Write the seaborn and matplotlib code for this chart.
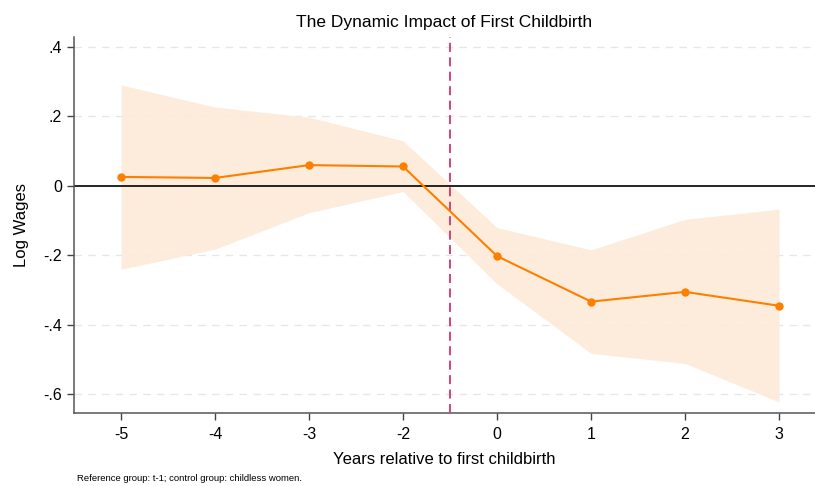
import matplotlib
matplotlib.use("Agg")
import matplotlib.pyplot as plt
import seaborn as sns
import numpy as np
import pandas as pd

# Event-study estimates of log wages around first childbirth
years = ["-5", "-4", "-3", "-2", "0", "1", "2", "3"]
coef = [0.026, 0.023, 0.060, 0.056, -0.202, -0.333, -0.305, -0.345]
ci_upper = [0.291, 0.227, 0.198, 0.130, -0.120, -0.184, -0.096, -0.067]
ci_lower = [-0.240, -0.182, -0.077, -0.016, -0.282, -0.482, -0.511, -0.622]
y_ticks = [0.4, 0.2, 0.0, -0.2, -0.4, -0.6]
y_tick_labels = [".4", ".2", "0", "-.2", "-.4", "-.6"]

sns.set_style("white", {"text.color": "black", "axes.labelcolor": "black",
                        "xtick.color": "black", "ytick.color": "black"})
plt.rcParams["font.family"] = ["Liberation Sans", "DejaVu Sans"]

df = pd.DataFrame({"pos": np.arange(len(years)), "year": years,
                   "coef": coef, "lo": ci_lower, "hi": ci_upper})

fig = plt.figure(figsize=(8.15, 4.86), dpi=100)
ax = fig.add_axes([0.0908, 0.150, 0.909, 0.774])

ax.fill_between(df["pos"], df["lo"], df["hi"], color="#fdebdb", alpha=0.95,
                linewidth=0, zorder=1)
for yt in y_ticks:
    if yt != 0:
        ax.axhline(yt, color="#e6e6e6", linestyle=(0, (6, 5)), linewidth=0.9, zorder=0)
ax.axhline(0, color="black", linewidth=1.2, zorder=2)
ax.axvline(3.5, color="#d6336c", linestyle=(0, (5, 3)), linewidth=1.3, zorder=3)

sns.lineplot(data=df, x="pos", y="coef", ax=ax, color="#fc7f00", linewidth=1.5,
             marker="o", markersize=6, markeredgewidth=0, zorder=4)

ax.set_xlim(-0.5, 7.38)
ax.set_ylim(-0.654, 0.429)
ax.set_xticks(df["pos"])
ax.set_xticklabels(years)
ax.set_yticks(y_ticks)
ax.set_yticklabels(y_tick_labels)
ax.tick_params(axis="both", labelsize=11.5, length=5, width=1, color="#444444",
               labelcolor="black", direction="out", left=True, bottom=True)
ax.tick_params(axis="x", pad=5)
for s in ["top", "right"]:
    ax.spines[s].set_visible(False)
for s in ["left", "bottom"]:
    ax.spines[s].set_color("#555555")
    ax.spines[s].set_linewidth(1.1)

ax.set_xlabel("Years relative to first childbirth", fontsize=12, labelpad=7)
ax.set_ylabel("Log Wages", fontsize=12, labelpad=10)
ax.set_title("The Dynamic Impact of First Childbirth", fontsize=12.5, pad=7)

fig.text(0.094, 0.0145, "Reference group: t-1; control group: childless women.",
         fontsize=6.8, ha="left", va="center")

fig.savefig("out.png", dpi=100)
